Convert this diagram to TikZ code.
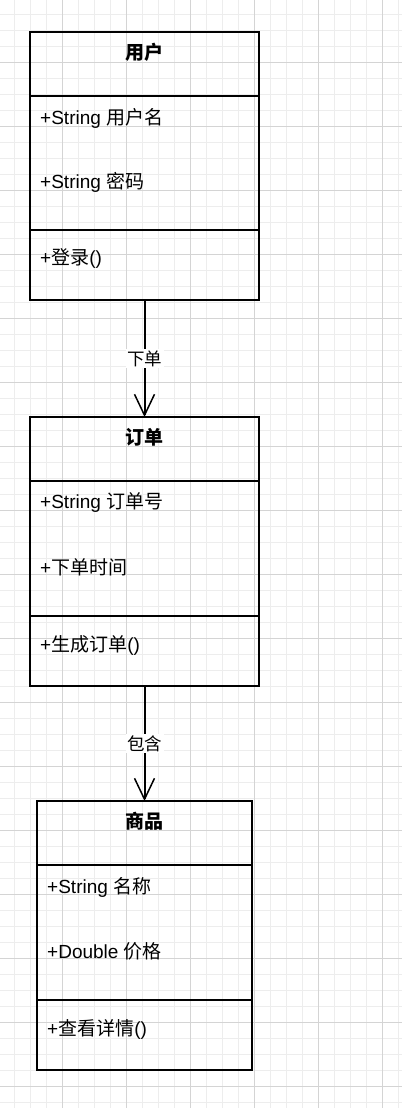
\documentclass[tikz,border=0pt]{standalone}
\usepackage{fontspec}
\setmainfont{Liberation Sans}
\newfontfamily\cjk{Noto Sans CJK SC}
\usetikzlibrary{positioning,arrows.meta}

\tikzset{
  minorgrid/.style={draw=black!7,line width=0.8pt},
  majorgrid/.style={draw=black!17,line width=0.8pt},
  classpart/.style={draw,line width=1.3pt,minimum width=229pt,inner sep=0pt,outer sep=0pt},
  member/.style={anchor=west,inner sep=0pt,font=\fontsize{19}{22}\selectfont},
  title/.style={inner sep=0pt,font=\fontsize{19}{22}\selectfont\bfseries},
  rel/.style={->,line width=2pt},
  rellabel/.style={fill=white,inner sep=1.5pt,font=\fontsize{17.5}{20}\selectfont\cjk}
}

\begin{document}
\begin{tikzpicture}[x=1pt,y=-1pt,>={Straight Barb[length=21pt,width=20pt,line width=1.5pt]}]
  \useasboundingbox (0,0) rectangle (402,1108);
  % grid
  \foreach \g in {14,30,...,1102} \draw[minorgrid] (0,\g) -- (402,\g);
  \foreach \g in {14,30,...,398} \draw[minorgrid] (\g,0) -- (\g,1108);
  \foreach \g in {62,126,...,1086} \draw[majorgrid] (0,\g) -- (402,\g);
  \foreach \g in {62,126,...,382} \draw[majorgrid] (\g,0) -- (\g,1108);

  % user
  \node[classpart,minimum height=64pt] (user) at (144.5,64) {};
  \node[classpart,minimum height=134pt,below=0pt of user] (user-attr) {};
  \node[classpart,minimum height=70pt,below=0pt of user-attr] (user-ops) {};
  \node[title] (user-title) at ([yshift=-20pt]user.north) {\cjk 用户};
  \node[member] (user-name) at ([xshift=10pt,yshift=-22pt]user-attr.north west) {+String {\cjk 用户名}};
  \node[member] (user-pwd) at ([xshift=10pt,yshift=-86pt]user-attr.north west) {+String {\cjk 密码}};
  \node[member] (user-login) at ([xshift=10pt,yshift=-29pt]user-ops.north west) {+{\cjk 登录}()};

  % order
  \node[classpart,minimum height=64pt] (order) at (144.5,449) {};
  \node[classpart,minimum height=135pt,below=0pt of order] (order-attr) {};
  \node[classpart,minimum height=70pt,below=0pt of order-attr] (order-ops) {};
  \node[title] (order-title) at ([yshift=-20pt]order.north) {\cjk 订单};
  \node[member] (order-no) at ([xshift=10pt,yshift=-22pt]order-attr.north west) {+String {\cjk 订单号}};
  \node[member] (order-time) at ([xshift=10pt,yshift=-86pt]order-attr.north west) {+{\cjk 下单时间}};
  \node[member] (order-make) at ([xshift=10pt,yshift=-29pt]order-ops.north west) {+{\cjk 生成订单}()};

  % goods
  \node[classpart,minimum width=215pt,minimum height=64pt] (goods) at (144.5,833) {};
  \node[classpart,minimum width=215pt,minimum height=135pt,below=0pt of goods] (goods-attr) {};
  \node[classpart,minimum width=215pt,minimum height=70pt,below=0pt of goods-attr] (goods-ops) {};
  \node[title] (goods-title) at ([yshift=-20pt]goods.north) {\cjk 商品};
  \node[member] (goods-name) at ([xshift=10pt,yshift=-22pt]goods-attr.north west) {+String {\cjk 名称}};
  \node[member] (goods-price) at ([xshift=10pt,yshift=-86pt]goods-attr.north west) {+Double {\cjk 价格}};
  \node[member] (goods-view) at ([xshift=10pt,yshift=-29pt]goods-ops.north west) {+{\cjk 查看详情}()};

  % relations
  \draw[rel] (user-ops) -- node[rellabel] {下单} (order);
  \draw[rel] (order-ops) -- node[rellabel] {包含} (goods);
\end{tikzpicture}
\end{document}
